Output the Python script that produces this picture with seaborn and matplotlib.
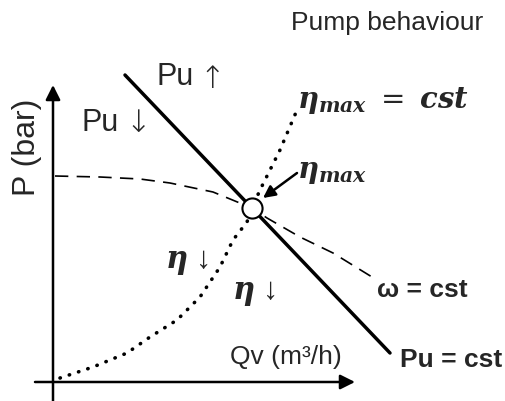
import matplotlib
matplotlib.use("Agg")
import matplotlib.pyplot as plt
import seaborn as sns
import pandas as pd

# schematic pump curves, arbitrary units (origin = axis crossing)
omega_q = [2, 47, 87, 117, 160, 199, 214, 247, 280, 319]
omega_p = [206, 205, 203, 199, 190, 174, 164, 145, 129, 105]

pu_q = [72, 337]
pu_p = [307, 29]

eta_q = [7, 40, 74, 97, 124, 147, 167, 180, 194, 199, 207, 227, 244]
eta_p = [4, 15, 29, 45, 62, 85, 115, 142, 160, 174, 192, 232, 272]

best_q = [199]
best_p = [174]

sns.set_theme(style="white")
plt.rcParams["font.family"] = ["Liberation Sans", "DejaVu Sans"]
plt.rcParams["mathtext.fontset"] = "custom"
plt.rcParams["mathtext.it"] = "DejaVu Serif:italic:bold"
plt.rcParams["mathtext.rm"] = "DejaVu Serif"
plt.rcParams["mathtext.bf"] = "DejaVu Serif:italic:bold"

fig = plt.figure(figsize=(5.05, 4.01), dpi=100)
ax = fig.add_axes([0, 0, 1, 1])
ax.set_xlim(-53, 452)
ax.set_ylim(-19, 382)
ax.axis("off")

# axes arrows
arrow = dict(arrowstyle="-|>", lw=1.8, color="black", mutation_scale=22,
             shrinkA=0, shrinkB=0)
ax.annotate("", xy=(0, 297), xytext=(0, -19), arrowprops=arrow)
ax.annotate("", xy=(302, 0), xytext=(-18, 0), arrowprops=arrow)

omega = pd.DataFrame({"q": omega_q, "p": omega_p})
pu = pd.DataFrame({"q": pu_q, "p": pu_p})
eta = pd.DataFrame({"q": eta_q, "p": eta_p})

sns.lineplot(data=omega, x="q", y="p", sort=False, ax=ax, color="black",
             lw=1.2, linestyle=(0, (8, 5)))
sns.lineplot(data=eta, x="q", y="p", sort=False, ax=ax, color="black",
             lw=2.6, linestyle=(0, (0.1, 2.6)), dash_capstyle="round")
sns.lineplot(data=pu, x="q", y="p", sort=False, ax=ax, color="black", lw=2.5)
sns.scatterplot(x=best_q, y=best_p, ax=ax, s=210, color="white",
                edgecolor="black", linewidth=1.5, zorder=5)

# eta max pointer
ax.annotate("", xy=(210, 184), xytext=(244, 209),
            arrowprops=dict(arrowstyle="-|>", lw=1.8, color="black",
                            mutation_scale=18, shrinkA=0, shrinkB=0))

ax.text(334, 359, "Pump behaviour", fontsize=19, ha="center", va="center")
ax.text(-26, 235, "P (bar)", fontsize=23, ha="center", va="center", rotation=90)
ax.text(122, 305, "Pu", fontsize=22, ha="center", va="center")
ax.text(159, 302, "\u2191", fontsize=22, ha="center", va="center",
        family="DejaVu Sans", fontweight="light")
ax.text(47, 259, "Pu", fontsize=22, ha="center", va="center")
ax.text(85, 258, "\u2193", fontsize=22, ha="center", va="center",
        family="DejaVu Sans", fontweight="light")
ax.text(244, 282, r"$\eta_{max}\;=\;cst$", fontsize=21, ha="left", va="center")
ax.text(244, 210, r"$\eta_{max}$", fontsize=21, ha="left", va="center")
ax.text(134, 120, "$\\eta$ \u2193", fontsize=22, ha="center", va="center")
ax.text(201, 89, "$\\eta$ \u2193", fontsize=22, ha="center", va="center")
ax.text(369, 92, "\u03c9 = cst", fontsize=19, fontweight="bold",
        ha="center", va="center")
ax.text(398, 22, "Pu = cst", fontsize=19, fontweight="bold",
        ha="center", va="center")
ax.text(233, 25, "Qv (m\u00b3/h)", fontsize=19, ha="center", va="center")

fig.savefig("out.png", dpi=100)
